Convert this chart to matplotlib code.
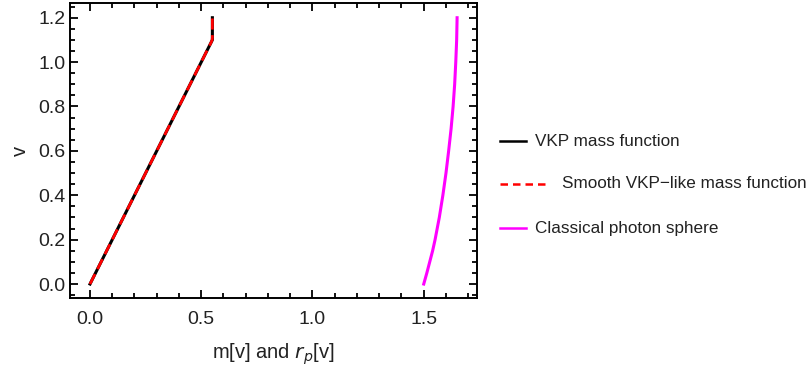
import numpy as np
import matplotlib
matplotlib.use("Agg")
import matplotlib.pyplot as plt
from matplotlib.lines import Line2D
from matplotlib.ticker import MultipleLocator

plt.rcParams['font.family'] = ['Liberation Sans', 'DejaVu Sans']

# VKP mass function m[v]
v_vkp = [0.0, 1.1, 1.2]
m_vkp = [0.0, 0.55, 0.55]

# smooth VKP-like mass function
v_smooth = [0.0, 1.09, 1.1, 1.11, 1.2]
m_smooth = [0.0, 0.545, 0.549, 0.55, 0.55]

# classical photon sphere r_p[v]
v_photon = [0.0, 0.05, 0.1, 0.15, 0.2, 0.3, 0.4, 0.5, 0.6, 0.7, 0.8, 0.9, 1.0, 1.1, 1.2]
r_photon = [1.5, 1.514, 1.527, 1.540, 1.551, 1.570, 1.586, 1.600, 1.612, 1.623, 1.632,
            1.639, 1.644, 1.648, 1.650]

labels = ["VKP mass function", "Smooth VKP\u2212like mass function", "Classical photon sphere"]

fig = plt.figure(figsize=(8.09, 3.76), dpi=100)
ax = fig.add_axes([0.0865, 0.2074, 0.503, 0.785])

ax.plot(m_vkp, v_vkp, color="black", lw=2.2)
ax.plot(m_smooth, v_smooth, color="red", lw=2.0, dashes=(4, 2))
ax.plot(r_photon, v_photon, color="magenta", lw=2.2)

ax.set_xlim(-0.09, 1.739)
ax.set_ylim(-0.063, 1.267)
ax.xaxis.set_major_locator(MultipleLocator(0.5))
ax.xaxis.set_minor_locator(MultipleLocator(0.1))
ax.yaxis.set_major_locator(MultipleLocator(0.2))
ax.yaxis.set_minor_locator(MultipleLocator(0.05))
ax.xaxis.set_major_formatter(plt.FormatStrFormatter('%.1f'))
ax.yaxis.set_major_formatter(plt.FormatStrFormatter('%.1f'))
ax.tick_params(which='both', direction='in', top=True, right=True, width=1.3, colors='black',
               labelcolor='#222222', labelsize=14)
ax.tick_params(which='major', length=6)
ax.tick_params(which='minor', length=3.5)
ax.tick_params(axis='x', pad=9)
ax.tick_params(axis='y', pad=3)
for s in ax.spines.values():
    s.set_linewidth(1.4)

ax.set_xlabel("m[v] and $r_p$[v]", fontsize=14.5, color='#222222', labelpad=10)
ax.set_ylabel("v", fontsize=14.5, color='#222222', labelpad=6)

# legend drawn by hand, Mathematica style
styles = [dict(color="black", lw=1.8), dict(color="red", lw=1.8, dashes=(3, 2)),
          dict(color="magenta", lw=1.8)]
rows = [141, 184, 228]
x0 = [500, 500, 500]
x1 = [526, 548, 526]
tx = [535, 562, 535]
W, H = 809.0, 376.0
for i in range(3):
    y = 1 - rows[i] / H
    fig.add_artist(Line2D([x0[i] / W, x1[i] / W], [y, y], transform=fig.transFigure, **styles[i]))
    fig.text(tx[i] / W, y, labels[i], fontsize=12.3, va='center', ha='left', color='#222222')

fig.savefig("out.png", dpi=100)
